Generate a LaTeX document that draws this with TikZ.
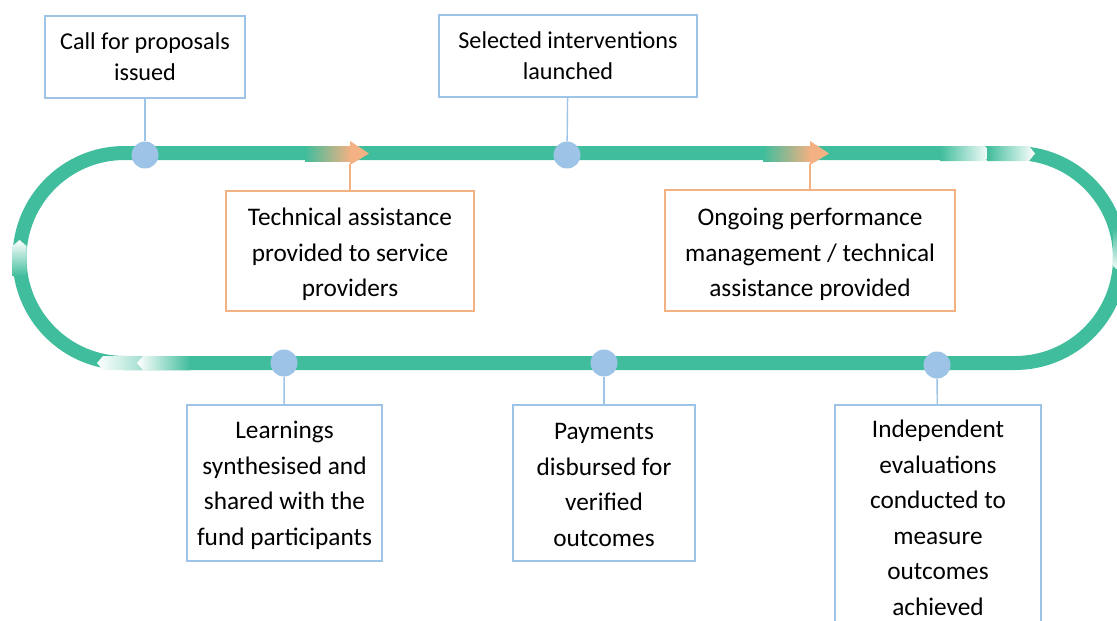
\documentclass[tikz,border=0pt]{standalone}
\usepackage{fontspec}
\setmainfont{Carlito}
\usetikzlibrary{arrows.meta,positioning}
\definecolor{trackgreen}{HTML}{40BD9C}
\definecolor{softblue}{HTML}{9DC3E6}
\definecolor{softorange}{HTML}{F4B183}
\newcommand{\topgap}[1]{\rule{0pt}{#1}}

\begin{document}
\begin{tikzpicture}[x=1pt,y=-1pt,
    box/.style={draw=softblue,line width=1.4pt,fill=white,align=center,inner sep=0pt,font=\fontsize{25.3}{35.5}\selectfont},
    topbox/.style={box,font=\fontsize{24.2}{31}\selectfont},
    tabox/.style={box,draw=softorange},
    dot/.style={circle,fill=softblue,minimum size=27pt,inner sep=0pt},
    link/.style={softblue,line width=1.4pt},
    talink/.style={softorange,line width=1.4pt}
  ]
  \clip (0,0) rectangle (1117,621);
  % track
  \draw[trackgreen,line width=14pt,rounded corners=105pt] (19.5,153) rectangle (1120,363);
  % direction marks
  \shade[left color=trackgreen,right color=white] (940,146) -- (985,146) -- (991,153.5) -- (985,161) -- (940,161) -- cycle;
  \shade[left color=trackgreen,right color=white] (987,146) -- (1029,146) -- (1035,153.5) -- (1029,161) -- (987,161) -- cycle;
  \shade[left color=white,right color=trackgreen] (103,356) -- (190,356) -- (190,370) -- (103,370) -- (97,363) -- cycle;
  \shade[left color=white,right color=trackgreen] (143,356) -- (190,356) -- (190,370) -- (143,370) -- (137,363) -- cycle;
  \shade[top color=white,bottom color=trackgreen] (12.5,246) -- (19.5,240) -- (26.5,246) -- (26.5,276) -- (12.5,276) -- cycle;
  \shade[top color=trackgreen,bottom color=white] (1113,228) -- (1127,228) -- (1127,266) -- (1120,272) -- (1113,266) -- cycle;
  % orange arrows
  \shade[left color=trackgreen,right color=softorange] (305,146) rectangle (351,161);
  \fill[softorange] (350,141) -- (369,153.5) -- (350,165) -- cycle;
  \shade[left color=trackgreen,right color=softorange] (763,146) rectangle (811,161);
  \fill[softorange] (810,141) -- (829,153.5) -- (810,165) -- cycle;
  \coordinate (tip1) at (350,164);
  \coordinate (tip2) at (810,164);
  % milestones
  \node[dot] (d1) at (145,155) {};
  \node[dot] (d2) at (567,155) {};
  \node[dot] (d3) at (284,363) {};
  \node[dot] (d4) at (604,363) {};
  \node[dot] (d5) at (937,365) {};
  \node[topbox,minimum width=200pt,minimum height=82pt] (call) at (145,57) {Call for proposals\\issued};
  \node[topbox,minimum width=258pt,minimum height=82pt] (launch) at (568,56) {Selected interventions\\launched};
  \node[tabox,minimum width=248pt,minimum height=120pt] (ta) at (350,251) {\topgap{24.7pt}Technical assistance\\provided to service\\providers};
  \node[tabox,minimum width=290pt,minimum height=121pt] (perf) at (810,250.5) {\topgap{25.6pt}Ongoing performance\\management / technical\\assistance provided};
  \node[box,minimum width=195pt,minimum height=156pt] (learn) at (284.5,483) {\topgap{22.5pt}Learnings\\synthesised and\\shared with the\\fund participants};
  \node[box,minimum width=182pt,minimum height=156pt] (pay) at (604,483) {\topgap{20.5pt}Payments\\disbursed for\\verified\\outcomes};
  \node[box,minimum width=206pt,minimum height=226pt] (eval) at (938,518) {Independent\\evaluations\\conducted to\\measure\\outcomes\\achieved};
  \draw[link] (call) -- (d1);
  \draw[link] (launch) -- (d2);
  \draw[link] (learn) -- (d3);
  \draw[link] (pay) -- (d4);
  \draw[link] (eval) -- (d5);
  \draw[talink] (ta) -- (tip1);
  \draw[talink] (perf) -- (tip2);
\end{tikzpicture}
\end{document}
